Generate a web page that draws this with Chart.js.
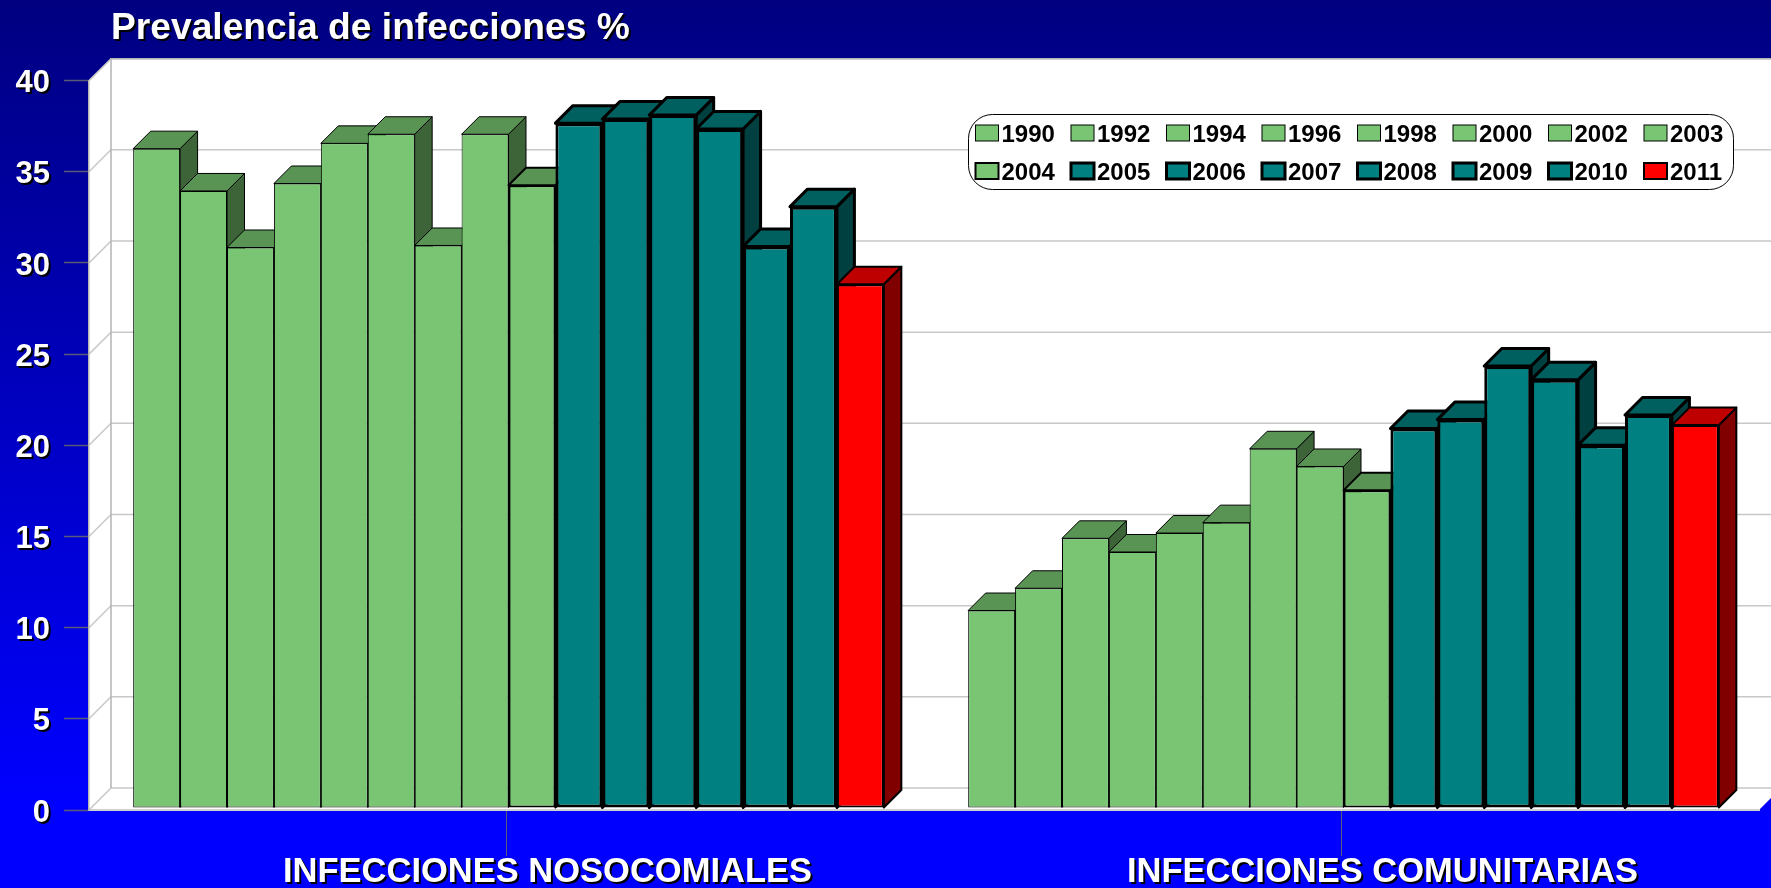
<!DOCTYPE html>
<html>
<head>
<meta charset="utf-8">
<title>Prevalencia de infecciones %</title>
<script src="https://cdn.jsdelivr.net/npm/chart.js@4"></script>
<style>
    html, body { margin: 0; padding: 0; width: 1771px; height: 888px; overflow: hidden; }
    body { background: linear-gradient(to bottom, #000080 0%, #0000ff 90%); }
    canvas { display: block; }
</style>
</head>
<body>
<canvas id="prevalencia" width="1771" height="888"></canvas>
<script>
const categories = ['INFECCIONES NOSOCOMIALES', 'INFECCIONES COMUNITARIAS'];
const years = ['1990', '1992', '1994', '1996', '1998', '2000', '2002', '2003',
               '2004', '2005', '2006', '2007', '2008', '2009', '2010', '2011'];
const nosocomiales = [36.16, 33.84, 30.74, 34.25, 36.45, 36.95, 30.85, 36.95,
                      34.15, 37.56, 37.78, 38.0, 37.24, 30.8, 32.98, 28.72];
const comunitarias = [10.83, 12.05, 14.79, 14.04, 15.08, 15.65, 19.7, 18.73,
                      17.42, 20.81, 21.3, 24.24, 23.48, 19.9, 21.55, 21.0];
const yTicks = [0, 5, 10, 15, 20, 25, 30, 35, 40];

const FONT = '"Liberation Sans", Arial, sans-serif';
const DEPTH = 17.5;      // depth of a bar
const WALL = 22;         // depth of the floor and side wall
const GREEN = { front: '#79c574', top: '#5a9455', side: '#3d6438' };
const TEAL = { front: '#008080', top: '#006060', side: '#004040' };
const RED = { front: '#ff0000', top: '#bf0000', side: '#800000' };

function paletteFor(i) {
    if (i === years.length - 1) return RED;
    return i < 9 ? GREEN : TEAL;
}

function borderFor(i) {
    if (i < 8) return 1;
    if (i === 8 || i === years.length - 1) return 2;
    return 3;
}

function fillPoly(ctx, points, fill, stroke, lineWidth) {
    ctx.beginPath();
    points.forEach(function(p, n) {
        if (n === 0) ctx.moveTo(p[0], p[1]); else ctx.lineTo(p[0], p[1]);
    });
    ctx.closePath();
    if (fill) { ctx.fillStyle = fill; ctx.fill(); }
    if (stroke) {
        ctx.strokeStyle = stroke;
        ctx.lineWidth = lineWidth;
        ctx.lineJoin = 'round';
        ctx.stroke();
    }
}

// Text of the title and the axes gets a hard black drop shadow
function addShadow(obj, method) {
    const original = obj[method];
    obj[method] = function() {
        const ctx = this.ctx;
        ctx.save();
        ctx.shadowColor = '#000000';
        ctx.shadowOffsetX = 2;
        ctx.shadowOffsetY = 2;
        ctx.shadowBlur = 0;
        original.apply(this, arguments);
        ctx.restore();
    };
}

const shadowText = {
    id: 'shadowText',
    afterLayout: function(chart) {
        if (chart.$shadowed) return;
        chart.$shadowed = true;
        chart.titleBlock.left = 111;
        addShadow(chart.titleBlock, 'draw');
        addShadow(chart.scales.x, 'drawLabels');
        addShadow(chart.scales.y, 'drawLabels');
    }
};

// White box behind the bars: back wall, side wall, floor and their grid lines
const walls = {
    id: 'walls',
    beforeDraw: function(chart) {
        const ctx = chart.ctx;
        const a = chart.chartArea;
        const y = chart.scales.y;
        ctx.save();
        fillPoly(ctx, [[a.left, a.top], [a.left + WALL, a.top - WALL], [chart.width, a.top - WALL],
                       [chart.width, a.bottom], [a.left, a.bottom]], '#ffffff');
        fillPoly(ctx, [[a.right, a.bottom], [a.right + WALL, a.bottom - WALL],
                       [chart.width + WALL, a.bottom], [chart.width, a.bottom]], '#0000fa');
        ctx.lineWidth = 1.5;
        y.ticks.forEach(function(t) {
            const py = y.getPixelForValue(t.value);
            ctx.strokeStyle = '#c8c8c8';
            ctx.beginPath();
            ctx.moveTo(a.left, py);
            ctx.lineTo(a.left + WALL, py - WALL);
            ctx.lineTo(chart.width, py - WALL);
            ctx.stroke();
        });
        ctx.strokeStyle = '#b4b4b4';
        ctx.beginPath();
        ctx.moveTo(a.left + WALL, a.bottom - WALL);
        ctx.lineTo(a.left + WALL, a.top - WALL);
        ctx.lineTo(chart.width, a.top - WALL);
        ctx.stroke();
        ctx.restore();
    }
};

// Bars go left to right so each one covers the side face of the one before.
// Top and side faces come from the same bar elements the library has placed.
const depthBars = {
    id: 'depthBars',
    beforeDatasetsDraw: function(chart) {
        const ctx = chart.ctx;
        chart.data.datasets.forEach(function(ds, i) {
            const meta = chart.getDatasetMeta(i);
            const colors = paletteFor(i);
            const lw = borderFor(i);
            ctx.save();
            ctx.translate(2, -2);
            meta.data.forEach(function(bar) {
                const p = bar.getProps(['x', 'y', 'width', 'base'], true);
                const l = p.x - p.width / 2;
                const r = p.x + p.width / 2;
                fillPoly(ctx, [[r, p.y], [r + DEPTH, p.y - DEPTH], [r + DEPTH, p.base - DEPTH], [r, p.base]],
                         colors.side, '#000000', lw);
                fillPoly(ctx, [[l, p.y], [l + DEPTH, p.y - DEPTH], [r + DEPTH, p.y - DEPTH], [r, p.y]],
                         colors.top, '#000000', lw);
            });
            meta.controller.draw();
            ctx.restore();
        });
        return false;
    }
};

const boxLegend = {
    id: 'boxLegend',
    afterDraw: function(chart) {
        const ctx = chart.ctx;
        ctx.save();
        ctx.beginPath();
        ctx.roundRect(968.5, 114.5, 765, 75, 24);
        ctx.fillStyle = '#ffffff';
        ctx.fill();
        ctx.strokeStyle = '#000000';
        ctx.lineWidth = 1;
        ctx.stroke();
        ctx.font = 'bold 24px ' + FONT;
        ctx.textAlign = 'left';
        ctx.textBaseline = 'middle';
        chart.data.datasets.forEach(function(ds, i) {
            const col = i % 8;
            const row = Math.floor(i / 8);
            const x = 975.5 + col * 95.5;
            const y = 125 + row * 38;
            const lw = borderFor(i);
            ctx.fillStyle = ds.backgroundColor;
            ctx.fillRect(x, y, 23, 16);
            ctx.strokeStyle = '#000000';
            ctx.lineWidth = lw;
            ctx.strokeRect(x, y, 23, 16);
            ctx.fillStyle = '#000000';
            ctx.fillText(ds.label, x + 26, y + 10.5);
        });
        ctx.restore();
    }
};

document.addEventListener('DOMContentLoaded', function() {
    const canvas = document.getElementById('prevalencia');
    const ctx = canvas.getContext('2d');

    const datasets = years.map(function(year, i) {
        return {
            label: year,
            data: [nosocomiales[i], comunitarias[i]],
            backgroundColor: paletteFor(i).front,
            borderColor: '#000000',
            borderWidth: borderFor(i),
            borderSkipped: false,
            categoryPercentage: 0.899,
            barPercentage: 1,
            clip: false
        };
    });

    new Chart(ctx, {
        type: 'bar',
        data: { labels: categories, datasets: datasets },
        plugins: [walls, depthBars, boxLegend, shadowText],
        options: {
            responsive: false,
            animation: false,
            layout: { padding: { right: 12 } },
            plugins: {
                legend: { display: false },
                tooltip: { enabled: false },
                title: {
                    display: true,
                    text: 'Prevalencia de infecciones %',
                    align: 'start',
                    color: '#ffffff',
                    font: { family: FONT, size: 37.2, weight: 'bold', lineHeight: 1.2 },
                    padding: { top: 6, bottom: 30 }
                }
            },
            scales: {
                x: {
                    afterFit: function(scale) { scale.height = 78; },
                    grid: {
                        offset: false,
                        drawOnChartArea: false,
                        tickLength: 46,
                        tickColor: '#5a5a78',
                        tickWidth: 1
                    },
                    border: { color: '#d0d0d0', width: 2 },
                    ticks: {
                        color: '#ffffff',
                        maxRotation: 0,
                        labelOffset: 41,
                        padding: -4,
                        font: { family: FONT, size: 34.5, weight: 'bold' }
                    }
                },
                y: {
                    min: 0,
                    max: 40,
                    afterFit: function(scale) { scale.width = 89; },
                    afterBuildTicks: function(scale) {
                        scale.ticks = yTicks.map(function(v) { return { value: v }; });
                    },
                    grid: {
                        drawOnChartArea: false,
                        tickLength: 25,
                        tickColor: '#5a5a78',
                        tickWidth: 1.5
                    },
                    border: { color: '#b4b4b4', width: 1.5 },
                    ticks: {
                        color: '#ffffff',
                        padding: 14,
                        labelOffset: 3,
                        font: { family: FONT, size: 31, weight: 'bold' }
                    }
                }
            }
        }
    });
});
</script>
</body>
</html>
